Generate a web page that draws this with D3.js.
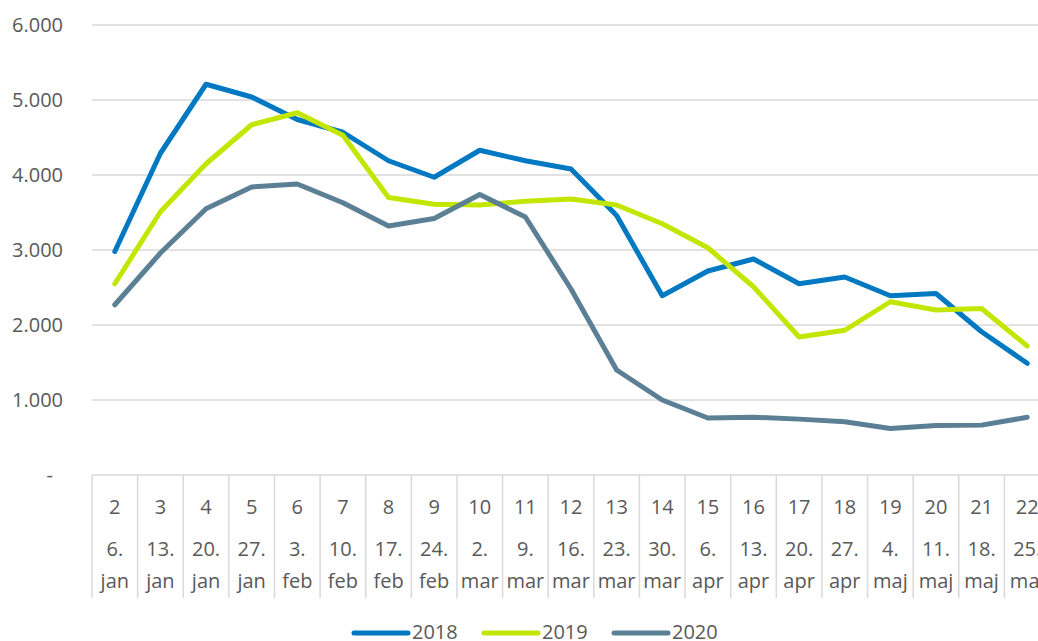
<!DOCTYPE html>
<html lang="da">
  <head>
    <meta charset="UTF-8" />
    <title>Uger 2018-2020</title>
    <style>
      body { margin: 0; background: #fff; }
      svg { display: block; font-family: "Open Sans", sans-serif; }
    </style>
  </head>
  <body>
    <svg id="svg" width="1038" height="641"></svg>

    <script src="https://cdn.jsdelivr.net/npm/d3@7"></script>
    <script>
      const weeks = ["2","3","4","5","6","7","8","9","10","11","12","13","14","15","16","17","18","19","20","21","22"];
      const days = ["6.","13.","20.","27.","3.","10.","17.","24.","2.","9.","16.","23.","30.","6.","13.","20.","27.","4.","11.","18.","25."];
      const months = ["jan","jan","jan","jan","feb","feb","feb","feb","mar","mar","mar","mar","mar","apr","apr","apr","apr","maj","maj","maj","maj"];

      const v2018 = [2980,4290,5210,5040,4740,4570,4190,3970,4330,4190,4080,3460,2390,2720,2880,2550,2640,2390,2420,1910,1490];
      const v2019 = [2550,3510,4150,4670,4830,4530,3700,3610,3600,3650,3680,3600,3350,3030,2510,1840,1930,2310,2200,2220,1720];
      const v2020 = [2270,2960,3550,3840,3880,3630,3320,3420,3740,3440,2480,1400,1000,760,770,745,710,620,660,665,770];

      const yTicks = [0,1000,2000,3000,4000,5000,6000];
      const yTickLabels = ["-","1.000","2.000","3.000","4.000","5.000","6.000"];

      const series = [
        { name: "2018", values: v2018, color: "#0079c2" },
        { name: "2019", values: v2019, color: "#c3e600" },
        { name: "2020", values: v2020, color: "#5b7f95" },
      ];

      const svg = d3.select("#svg");
      const plotLeft = 92, band = 45.62, plotTop = 25, plotBottom = 475;
      const grey = "#d9d9d9", textColor = "#595959";

      const x = d3.scaleBand().domain(weeks).range([plotLeft, plotLeft + band * weeks.length]);
      const y = d3.scaleLinear().domain([0, 6000]).range([plotBottom, plotTop]);

      // gridlines
      svg.append("g")
        .selectAll("line")
        .data(yTicks)
        .join("line")
        .attr("x1", plotLeft)
        .attr("x2", x.range()[1])
        .attr("y1", (d) => y(d))
        .attr("y2", (d) => y(d))
        .attr("stroke", grey)
        .attr("stroke-width", 1.5);

      // y labels
      svg.append("g")
        .selectAll("text")
        .data(yTicks)
        .join("text")
        .attr("x", (d) => (d === 0 ? 53 : 63))
        .attr("y", (d) => y(d))
        .attr("dy", "0.36em")
        .attr("text-anchor", "end")
        .attr("fill", textColor)
        .style("font-size", "20px")
        .text((d, i) => yTickLabels[i]);

      // category dividers
      const edges = weeks.map((w) => x(w)).concat([x.range()[1]]);
      svg.append("g")
        .selectAll("line")
        .data(edges)
        .join("line")
        .attr("x1", (d) => d)
        .attr("x2", (d) => d)
        .attr("y1", plotBottom)
        .attr("y2", 598)
        .attr("stroke", grey)
        .attr("stroke-width", 1.5);

      // x labels
      const xl = svg.append("g")
        .attr("fill", textColor)
        .attr("text-anchor", "middle")
        .style("font-size", "20px");
      weeks.forEach((w, i) => {
        const cx = x(w) + x.bandwidth() / 2;
        xl.append("text").attr("x", cx).attr("y", 514).text(w);
        xl.append("text").attr("x", cx).attr("y", 556).text(days[i]);
        xl.append("text").attr("x", cx).attr("y", 588).text(months[i]);
      });

      // lines
      const line = d3.line()
        .x((d, i) => x(weeks[i]) + x.bandwidth() / 2)
        .y((d) => y(d));

      svg.append("g")
        .selectAll("path")
        .data(series)
        .join("path")
        .attr("d", (d) => line(d.values))
        .attr("fill", "none")
        .attr("stroke", (d) => d.color)
        .attr("stroke-width", 5)
        .attr("stroke-linecap", "round")
        .attr("stroke-linejoin", "round");

      // legend
      const legend = svg.append("g")
        .selectAll("g")
        .data(series)
        .join("g")
        .attr("transform", (d, i) => `translate(${354 + i * 130},633)`);
      legend.append("line")
        .attr("x1", 0)
        .attr("x2", 54)
        .attr("stroke", (d) => d.color)
        .attr("stroke-width", 5)
        .attr("stroke-linecap", "round");
      legend.append("text")
        .attr("x", 58)
        .attr("y", 6)
        .attr("fill", textColor)
        .style("font-size", "20px")
        .text((d) => d.name);
    </script>
  </body>
</html>
